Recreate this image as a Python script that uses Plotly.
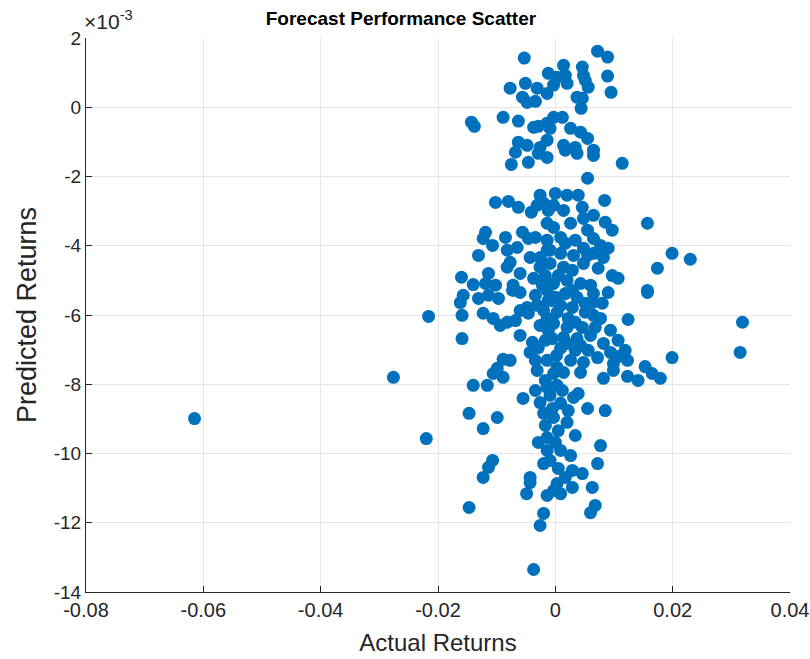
import plotly.graph_objects as go

actual_returns = [
    -0.0053, 0.0072, 0.0089, 0.0014, 0.0046, 0.0048, 0.0089, 0.0095, 0.0056, 0.0051,
    0.0003, 0.0017, 0.0020, -0.0003, 0.0037, 0.0046, 0.0044, -0.0003, 0.0012, -0.0009,
    0.0026, 0.0043, 0.0055, 0.0014, 0.0034, 0.0065, -0.0077, -0.0051, -0.0031, -0.0056,
    -0.0034, -0.0048, -0.0143, -0.0138, -0.0089, -0.0063, -0.0037, -0.0029, -0.0014, -0.0063,
    -0.0048, -0.0026, -0.0014, -0.0075, -0.0046, -0.0068, -0.0029, -0.0014, 0.0017, 0.0037,
    0.0065, 0.0114, 0.0055, -0.0012, -0.0014, -0.0102, -0.0080, -0.0063, -0.0041, -0.0026,
    -0.0020, -0.0031, -0.0012, -0.0014, -0.0119, -0.0123, -0.0107, -0.0085, -0.0056, -0.0046,
    -0.0034, -0.0014, -0.0131, -0.0082, -0.0065, -0.0043, -0.0026, -0.0014, 0.0000, 0.0020,
    0.0039, 0.0084, -0.0003, 0.0014, 0.0046, 0.0065, 0.0048, 0.0026, 0.0085, 0.0157,
    -0.0003, 0.0055, 0.0097, 0.0009, 0.0034, 0.0065, 0.0077, 0.0017, 0.0048, 0.0090,
    0.0065, -0.0009, 0.0009, 0.0031, 0.0055, 0.0082, -0.0160, -0.0140, -0.0114, -0.0119,
    -0.0102, -0.0082, -0.0077, -0.0060, -0.0072, -0.0073, -0.0060, -0.0037, -0.0026, -0.0017,
    -0.0157, -0.0162, -0.0131, -0.0114, -0.0097, -0.0034, -0.0014, -0.0159, -0.0123, -0.0106,
    -0.0094, -0.0082, -0.0068, -0.0060, -0.0046, -0.0048, -0.0031, -0.0020, -0.0014, -0.0159,
    -0.0060, -0.0039, -0.0043, -0.0029, -0.0017, -0.0089, -0.0077, -0.0099, -0.0034, -0.0014,
    -0.0009, 0.0014, 0.0048, 0.0073, 0.0097, 0.0107, 0.0157, -0.0003, 0.0020, 0.0043,
    0.0065, 0.0090, 0.0000, 0.0017, 0.0037, 0.0063, 0.0080, 0.0029, 0.0051, 0.0003,
    0.0022, 0.0051, 0.0065, -0.0003, 0.0020, 0.0046, 0.0068, 0.0124, -0.0005, 0.0014,
    0.0037, 0.0060, 0.0094, 0.0107, 0.0082, 0.0009, 0.0034, 0.0056, 0.0094, 0.0119,
    0.0072, 0.0026, 0.0048, 0.0099, 0.0123, 0.0003, 0.0005, 0.0029, 0.0009, 0.0034,
    0.0002, 0.0019, -0.0026, -0.0012, -0.0022, -0.0005, 0.0029, 0.0060, 0.0077, 0.0043,
    -0.0012, -0.0106, -0.0089, -0.0140, -0.0116, -0.0031, -0.0055, -0.0034, -0.0026, -0.0014,
    -0.0147, -0.0099, -0.0123, -0.0020, -0.0029, -0.0014, -0.0014, -0.0107, -0.0114, -0.0123,
    -0.0043, -0.0020, -0.0003, 0.0014, 0.0043, 0.0082, 0.0099, 0.0123, 0.0141, 0.0003,
    0.0031, 0.0039, 0.0009, 0.0055, 0.0085, -0.0003, 0.0020, 0.0005, 0.0034, 0.0000,
    0.0009, 0.0077, 0.0072, 0.0005, 0.0029, 0.0046, 0.0017, -0.0017, -0.0009, -0.0005,
    -0.0017, -0.0009, 0.0012, 0.0022, 0.0026, -0.0043, -0.0049, -0.0014, -0.0147, -0.0020,
    -0.0026, -0.0037, -0.0003, 0.0009, 0.0029, 0.0063, 0.0003, 0.0068, 0.0060, -0.0615,
    -0.0276, -0.0216, -0.0220, 0.0319, 0.0315, 0.0230, 0.0199, 0.0199, 0.0174, 0.0157,
    0.0179, 0.0165, 0.0153, 0.0107,
]

predicted_returns_e3 = [
    1.42, 1.62, 1.45, 1.21, 1.16, 0.92, 0.90, 0.43, 0.58, 0.78,
    0.87, 0.92, 0.69, 0.64, 0.29, 0.26, -0.03, -0.29, -0.29, -0.61,
    -0.61, -0.72, -0.90, -1.10, -1.16, -1.24, 0.55, 0.69, 0.55, 0.29,
    0.17, 0.14, -0.43, -0.55, -0.29, -0.40, -0.58, -0.55, -0.46, -1.01,
    -1.10, -1.16, -0.95, -1.65, -1.59, -1.30, -1.33, -1.45, -1.24, -1.33,
    -1.39, -1.62, -2.05, 0.98, 0.40, -2.75, -2.72, -2.89, -3.03, -2.54,
    -2.77, -2.83, -2.98, -3.35, -3.61, -3.79, -3.99, -3.76, -3.61, -3.79,
    -3.76, -3.84, -4.28, -4.13, -4.05, -4.34, -4.34, -4.13, -2.49, -2.54,
    -2.54, -2.69, -2.83, -2.98, -2.89, -3.12, -3.21, -3.35, -3.32, -3.35,
    -3.47, -3.55, -3.55, -3.76, -3.84, -3.79, -3.99, -3.93, -4.07, -4.07,
    -4.22, -4.13, -4.22, -4.28, -4.28, -4.34, -4.91, -5.12, -4.80, -5.09,
    -5.14, -4.62, -4.48, -4.80, -5.14, -5.29, -5.35, -4.94, -4.62, -4.86,
    -5.43, -5.64, -5.52, -5.43, -5.52, -5.43, -5.29, -6.01, -5.95, -6.10,
    -6.30, -6.21, -6.16, -5.87, -5.95, -5.78, -5.72, -5.87, -6.10, -6.68,
    -6.59, -6.79, -7.08, -6.94, -6.73, -7.28, -7.31, -7.54, -7.31, -7.31,
    -4.51, -4.62, -4.51, -4.65, -4.86, -4.94, -5.35, -5.09, -5.00, -5.09,
    -5.38, -5.35, -5.49, -5.38, -5.49, -5.64, -5.66, -5.78, -5.66, -5.92,
    -6.10, -5.92, -6.01, -6.24, -6.36, -6.36, -6.36, -6.13, -6.68, -6.65,
    -6.68, -6.59, -6.44, -6.73, -6.82, -6.96, -7.02, -7.02, -7.08, -7.02,
    -7.23, -7.31, -7.37, -7.40, -7.31, -7.51, -4.86, -5.29, -5.72, -6.21,
    -7.17, -6.82, -6.30, -6.44, -5.14, -5.58, -4.71, -5.14, -6.10, -6.88,
    -5.58, -7.69, -7.80, -8.03, -8.03, -7.60, -8.41, -8.18, -8.53, -8.09,
    -8.84, -8.96, -9.28, -8.84, -9.68, -9.54, -9.91, -10.20, -10.40, -10.69,
    -10.69, -10.29, -7.69, -7.66, -7.66, -7.83, -7.60, -7.77, -7.89, -8.03,
    -8.38, -8.27, -8.55, -8.70, -8.76, -8.96, -9.10, -9.34, -9.48, -9.68,
    -9.91, -9.77, -10.29, -10.43, -10.49, -10.58, -10.69, -7.89, -8.32, -8.70,
    -9.19, -10.20, -8.18, -8.76, -10.06, -10.84, -11.16, -11.21, -11.56, -11.73,
    -12.08, -13.35, -11.07, -11.16, -10.98, -10.98, -10.87, -11.50, -11.71, -8.99,
    -7.80, -6.04, -9.57, -6.21, -7.08, -4.39, -4.22, -7.23, -4.65, -5.29,
    -7.83, -7.69, -7.49, -7.20,
]

x_ticks = [-0.08, -0.06, -0.04, -0.02, 0, 0.02, 0.04]
x_tick_labels = ["-0.08", "-0.06", "-0.04", "-0.02", "0", "0.02", "0.04"]
y_ticks_e3 = [-14, -12, -10, -8, -6, -4, -2, 0, 2]
y_tick_labels = ["-14", "-12", "-10", "-8", "-6", "-4", "-2", "0", "2"]

predicted_returns = [v * 1e-3 for v in predicted_returns_e3]

FONT = "Liberation Sans, Arial, Helvetica, sans-serif"
TXT = "#262626"

W, H = 810, 659

fig = go.Figure()
fig.add_trace(go.Scatter(
    x=actual_returns, y=predicted_returns, mode="markers",
    marker=dict(color="#0072BD", size=13, line=dict(width=0)),
    showlegend=False,
))

fig.update_layout(
    width=W, height=H,
    paper_bgcolor="white", plot_bgcolor="white",
    margin=dict(l=86, r=20, t=38, b=67, autoexpand=False),
    font=dict(family=FONT, color=TXT, size=19),
    title=dict(text="<b>Forecast Performance Scatter</b>", x=0.495, xanchor="center",
               xref="container", yref="container", y=1 - 18 / H, yanchor="middle",
               automargin=False,
               font=dict(size=19, color="black", family=FONT)),
)

fig.update_xaxes(
    range=[-0.08, 0.04], tickvals=x_ticks, ticktext=x_tick_labels,
    automargin=False, ticklabeloverflow="allow",
    showgrid=True, gridcolor="#e6e6e6", gridwidth=1,
    zeroline=False, showline=True, linecolor="#262626", linewidth=1,
    ticks="inside", ticklen=6, tickcolor="#262626",
    tickfont=dict(size=20, color=TXT),
    title=dict(text="Actual Returns", font=dict(size=24, color=TXT), standoff=14),
)
fig.update_yaxes(
    range=[-0.014, 0.002], tickvals=[v * 1e-3 for v in y_ticks_e3], ticktext=y_tick_labels,
    automargin=False, ticklabeloverflow="allow",
    showgrid=True, gridcolor="#e6e6e6", gridwidth=1,
    zeroline=False, showline=True, linecolor="#262626", linewidth=1,
    ticks="inside", ticklen=6, tickcolor="#262626",
    tickfont=dict(size=19, color=TXT),
    title=dict(text="Predicted Returns", font=dict(size=27, color=TXT), standoff=9),
)

fig.add_annotation(
    text="×10<sup>-3</sup>", xref="paper", yref="paper", x=0, y=1.0,
    xanchor="left", yanchor="bottom", showarrow=False, yshift=3, xshift=-4,
    font=dict(size=21, color=TXT, family=FONT),
)

# Remove the default 8px page margin so the figure fills the window exactly.
fig.write_html(
    "out.html",
    config={"displayModeBar": False},
    post_script="document.body.style.margin='0';document.body.style.overflow='hidden';",
)
